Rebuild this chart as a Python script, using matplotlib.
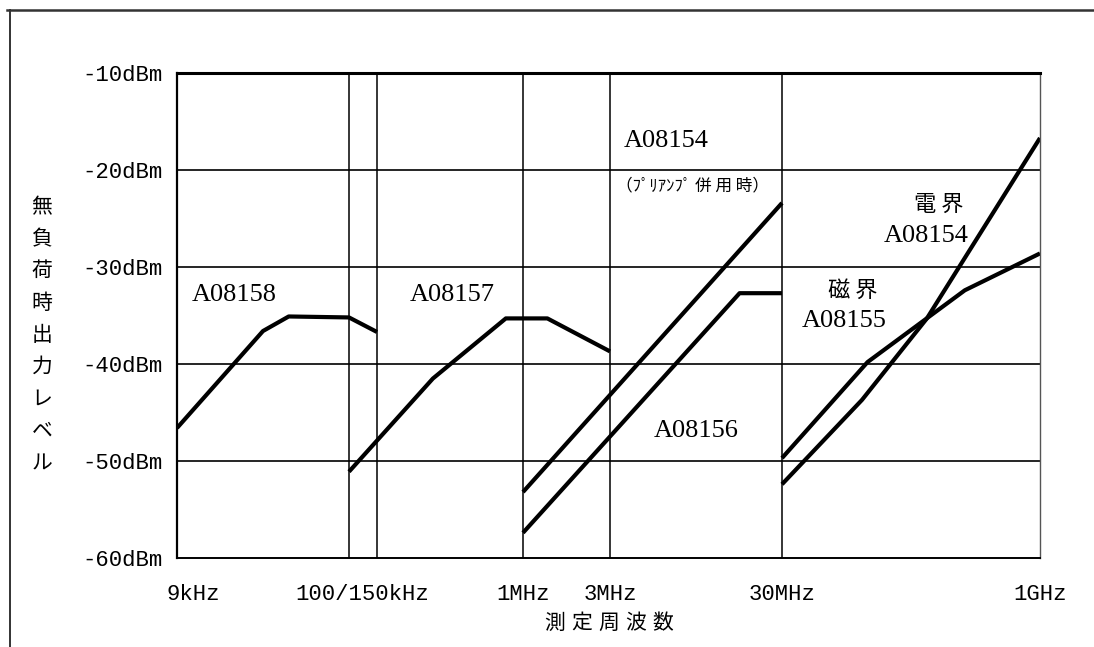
import numpy as np
import matplotlib
matplotlib.use("Agg")
import matplotlib.pyplot as plt
from matplotlib.lines import Line2D
from matplotlib.transforms import ScaledTranslation

LATIN = ["Liberation Serif", "Noto Sans CJK JP"]
MONO = ["Liberation Mono", "Noto Sans CJK JP"]
JP = ["Noto Sans CJK JP", "DejaVu Sans"]

# frequency axis of the original is a stitched log scale: anchor freqs and their relative positions
axis_freqs = [9e3, 1e5, 1.5e5, 1e6, 3e6, 3e7, 1e9]
axis_pos = [0, 172, 200, 346, 433, 605, 863]

tick_freqs = [9e3, 1.22e5, 1e6, 3e6, 3e7, 1e9]
tick_labels = ["9kHz", "100/150kHz", "1MHz", "3MHz", "30MHz", "1GHz"]
grid_freqs = [1e5, 1.5e5, 1e6, 3e6, 3e7]
y_ticks = [-10, -20, -30, -40, -50, -60]
y_labels = ["-10dBm", "-20dBm", "-30dBm", "-40dBm", "-50dBm", "-60dBm"]

# curves (frequency Hz, level dBm)
a08158_f = [9e3, 3.0e4, 4.3e4, 1e5, 1.5e5]
a08158_db = [-46.6, -36.6, -35.1, -35.2, -36.7]

a08157_f = [1e5, 3.1e5, 8.0e5, 1.36e6, 3e6]
a08157_db = [-51.1, -41.5, -35.3, -35.3, -38.7]

a08154_pre_f = [1e6, 3e7]
a08154_pre_db = [-53.2, -23.4]

a08156_f = [1e6, 1.7e7, 3e7]
a08156_db = [-57.4, -32.7, -32.7]

e_field_f = [3e7, 8.9e7, 2.15e8, 1e9]
e_field_db = [-52.4, -43.7, -35.3, -16.7]

h_field_f = [3e7, 9.6e7, 3.6e8, 1e9]
h_field_db = [-49.7, -39.8, -32.4, -28.6]

curves = [
    (a08158_f, a08158_db),
    (a08157_f, a08157_db),
    (a08154_pre_f, a08154_pre_db),
    (a08156_f, a08156_db),
    (e_field_f, e_field_db),
    (h_field_f, h_field_db),
]


def fwd(f):
    f = np.clip(np.asarray(f, dtype=float), 1.0, None)
    return np.interp(np.log10(f), np.log10(axis_freqs), axis_pos)


def inv(p):
    return 10 ** np.interp(np.asarray(p, dtype=float), axis_pos, np.log10(axis_freqs))


fig = plt.figure(figsize=(10.94, 6.47), dpi=100)
ax = fig.add_axes([177 / 1094, 89 / 647, 863 / 1094, 485 / 647])

ax.set_xscale("function", functions=(fwd, inv))
ax.set_xlim(9e3, 1e9)
ax.set_ylim(-60, -10)

for f in grid_freqs:
    ax.axvline(f, color="black", lw=1.1)
for v in [-20, -30, -40, -50]:
    ax.axhline(v, color="black", lw=1.2)

for f, db in curves:
    ax.plot(f, db, color="black", lw=3, solid_joinstyle="round", solid_capstyle="butt")

ax.spines["top"].set_linewidth(2.2)
ax.spines["left"].set_linewidth(1.6)
ax.spines["bottom"].set_linewidth(1.4)
ax.spines["right"].set_linewidth(1.0)
ax.spines["right"].set_color("#555555")

ax.set_yticks(y_ticks, y_labels, fontfamily=MONO, fontsize=16)
ax.set_xticks(tick_freqs, tick_labels, fontfamily=MONO, fontsize=16)
ax.minorticks_off()
ax.tick_params(axis="y", length=0, pad=10)
ax.tick_params(axis="x", length=0, pad=19)
# the 9kHz label sits a little right of its gridline
lbl = ax.get_xticklabels()[0]
lbl.set_transform(lbl.get_transform() + ScaledTranslation(16 / 100, 0, fig.dpi_scale_trans))

# curve labels
ax.text(2.0e4, -32.9, "A08158", fontfamily=LATIN, fontsize=19, ha="center", va="center")
ax.text(4.0e5, -32.9, "A08157", fontfamily=LATIN, fontsize=19, ha="center", va="center")
ax.text(6.4e6, -17.0, "A08154", fontfamily=LATIN, fontsize=19, ha="center", va="center")
ax.text(9.1e6, -21.6, "（ﾌﾟﾘｱﾝﾌﾟ 併 用 時）", fontfamily=JP, fontsize=12, ha="center", va="center")
ax.text(9.5e6, -46.9, "A08156", fontfamily=LATIN, fontsize=19, ha="center", va="center")
ax.text(2.53e8, -23.5, "電 界", fontfamily=JP, fontsize=16, ha="center", va="center")
ax.text(2.12e8, -26.8, "A08154", fontfamily=LATIN, fontsize=19, ha="center", va="center")
ax.text(7.9e7, -32.4, "磁 界", fontfamily=JP, fontsize=16, ha="center", va="center")
ax.text(7.0e7, -35.6, "A08155", fontfamily=LATIN, fontsize=19, ha="center", va="center")

# vertical y-axis title, one character per line
ylabel = "無負荷時出力レベル"
for i, ch in enumerate(ylabel):
    fig.text(42 / 1094, 1 - (207 + i * 32) / 647, ch, fontfamily=JP, fontsize=15,
             ha="center", va="center")

# x-axis title, spread out like the original
xlabel = "測定周波数"
for i, ch in enumerate(xlabel):
    fig.text((555 + i * 27) / 1094, 1 - 623 / 647, ch, fontfamily=JP, fontsize=15,
             ha="center", va="center")

# outer frame of the scanned page (top and left only)
fig.add_artist(Line2D([7 / 1094, 1], [1 - 10 / 647, 1 - 10 / 647], color="#333333", lw=1.8))
fig.add_artist(Line2D([10 / 1094, 10 / 1094], [0, 1 - 10 / 647], color="#333333", lw=1.4))

fig.savefig("out.png", dpi=100)
